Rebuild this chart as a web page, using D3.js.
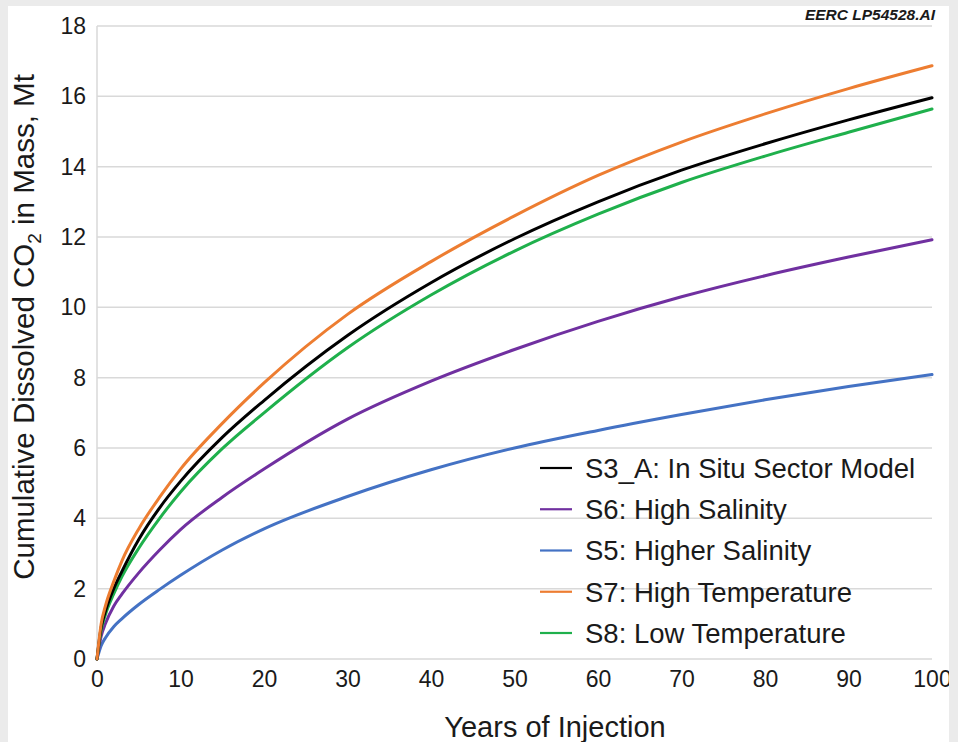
<!DOCTYPE html>
<html>
<head>
<meta charset="utf-8">
<script src="https://cdn.jsdelivr.net/npm/d3@7"></script>
<style>
  html, body { margin: 0; padding: 0; background: #ebebeb; }
  svg { display: block; }
  text { font-family: "Liberation Sans", Arial, sans-serif; fill: #1a1a1a; }
</style>
</head>
<body>
<svg id="chart" width="958" height="742"></svg>
<script>
// Years of injection
const years = [0, 0.5, 1, 2, 3, 5, 7.5, 10, 15, 20, 30, 40, 50, 60, 70, 80, 90, 100];

// Cumulative dissolved CO2 (Mt) for each scenario
const s3A = [0, 0.9, 1.35, 2.0, 2.5, 3.4, 4.3, 5.05, 6.3, 7.35, 9.2, 10.7, 11.95, 13.0, 13.9, 14.65, 15.33, 15.96];
const s6  = [0, 0.65, 1.0, 1.5, 1.85, 2.45, 3.1, 3.68, 4.6, 5.4, 6.82, 7.9, 8.8, 9.6, 10.3, 10.9, 11.43, 11.92];
const s5  = [0, 0.38, 0.6, 0.92, 1.15, 1.55, 1.98, 2.38, 3.1, 3.7, 4.62, 5.38, 6.0, 6.5, 6.95, 7.37, 7.75, 8.09];
const s7  = [0, 1.0, 1.5, 2.2, 2.8, 3.7, 4.6, 5.4, 6.7, 7.85, 9.8, 11.3, 12.6, 13.75, 14.7, 15.5, 16.22, 16.87];
const s8  = [0, 0.82, 1.25, 1.85, 2.35, 3.15, 4.0, 4.75, 5.98, 7.0, 8.85, 10.35, 11.6, 12.65, 13.55, 14.3, 14.98, 15.64];

const seriesNames  = ["S3_A: In Situ Sector Model", "S6: High Salinity", "S5: Higher Salinity", "S7: High Temperature", "S8: Low Temperature"];
const seriesValues = [s3A, s6, s5, s7, s8];
const seriesColors = ["#000000", "#7030a0", "#4472c4", "#ed7d31", "#1fb04c"];

const xTicks = [0, 10, 20, 30, 40, 50, 60, 70, 80, 90, 100];
const yTicks = [0, 2, 4, 6, 8, 10, 12, 14, 16, 18];

const svg = d3.select("#chart");

// white panel
svg.append("defs").append("clipPath").attr("id", "panel")
  .append("rect").attr("x", 8).attr("y", 6).attr("width", 941).attr("height", 736);
svg.append("rect").attr("x", 8).attr("y", 6).attr("width", 941).attr("height", 736).attr("fill", "#ffffff");

const root = svg.append("g").attr("clip-path", "url(#panel)");

const x = d3.scaleLinear().domain([0, 100]).range([97, 932]);
const y = d3.scaleLinear().domain([0, 18]).range([659, 26]);

// horizontal gridlines
root.append("g").selectAll("line").data(yTicks).join("line")
  .attr("x1", x(0)).attr("x2", x(100))
  .attr("y1", d => y(d)).attr("y2", d => y(d))
  .attr("stroke", "#d9d9d9").attr("stroke-width", 1.5);

// left axis line
root.append("line")
  .attr("x1", x(0)).attr("x2", x(0)).attr("y1", y(0)).attr("y2", y(18))
  .attr("stroke", "#d9d9d9").attr("stroke-width", 1.5);

// y axis
const yAxis = root.append("g")
  .attr("transform", `translate(${x(0)},0)`)
  .call(d3.axisLeft(y).tickValues(yTicks).tickSize(0).tickPadding(11));
yAxis.select(".domain").remove();
yAxis.selectAll("text").style("font-size", "23px").attr("fill", "#1a1a1a")
  .style("font-family", "'Liberation Sans', Arial, sans-serif");

// x axis
const xAxis = root.append("g")
  .attr("transform", `translate(0,${y(0)})`)
  .call(d3.axisBottom(x).tickValues(xTicks).tickSize(0).tickPadding(12));
xAxis.select(".domain").remove();
xAxis.selectAll("text").style("font-size", "23px").attr("fill", "#1a1a1a")
  .style("font-family", "'Liberation Sans', Arial, sans-serif");

// curves
const line = d3.line()
  .x((d, i) => x(years[i]))
  .y(d => y(d))
  .curve(d3.curveMonotoneX);

const drawOrder = [2, 1, 4, 0, 3];
drawOrder.forEach(k => {
  root.append("path")
    .datum(seriesValues[k])
    .attr("d", line)
    .attr("fill", "none")
    .attr("stroke", seriesColors[k])
    .attr("stroke-width", 3)
    .attr("stroke-linejoin", "round")
    .attr("stroke-linecap", "round");
});

// legend
const legend = root.append("g");
const rowY = d3.scaleLinear().domain([0, 4]).range([468, 633]);
seriesNames.forEach((name, i) => {
  legend.append("line")
    .attr("x1", 540).attr("x2", 572)
    .attr("y1", rowY(i)).attr("y2", rowY(i))
    .attr("stroke", seriesColors[i]).attr("stroke-width", 2.2);
  legend.append("text")
    .attr("x", 585).attr("y", rowY(i))
    .attr("dy", "0.36em")
    .style("font-size", "27.5px")
    .text(name);
});

// axis titles
root.append("text")
  .attr("x", 555).attr("y", 737)
  .attr("text-anchor", "middle")
  .style("font-size", "29px")
  .text("Years of Injection");

const yTitle = root.append("text")
  .attr("transform", "translate(34,327) rotate(-90)")
  .attr("text-anchor", "middle")
  .style("font-size", "29.5px");
yTitle.append("tspan").text("Cumulative Dissolved CO");
yTitle.append("tspan").attr("dy", 7).style("font-size", "19px").text("2");
yTitle.append("tspan").attr("dy", -7).text(" in Mass, Mt");

// file tag
root.append("text")
  .attr("x", 935).attr("y", 20)
  .attr("text-anchor", "end")
  .style("font-size", "15.5px")
  .style("font-style", "italic")
  .style("font-weight", "bold")
  .attr("fill", "#333333")
  .text("EERC LP54528.AI");
</script>
</body>
</html>
